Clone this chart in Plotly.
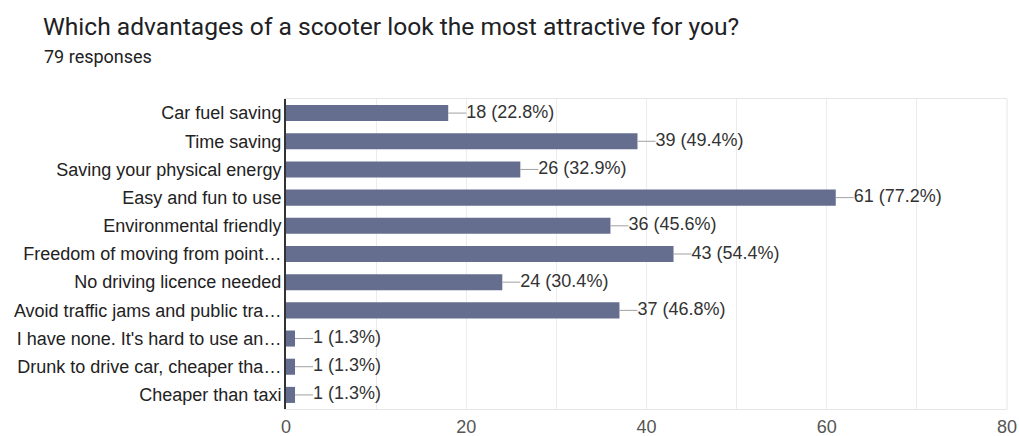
import plotly.graph_objects as go

categories = [
    "Car fuel saving",
    "Time saving",
    "Saving your physical energy",
    "Easy and fun to use",
    "Environmental friendly",
    "Freedom of moving from point…",
    "No driving licence needed",
    "Avoid traffic jams and public tra…",
    "I have none. It's hard to use an…",
    "Drunk to drive car, cheaper tha…",
    "Cheaper than taxi",
]
counts = [18, 39, 26, 61, 36, 43, 24, 37, 1, 1, 1]
percents = [22.8, 49.4, 32.9, 77.2, 45.6, 54.4, 30.4, 46.8, 1.3, 1.3, 1.3]
x_ticks = [0, 20, 40, 60, 80]

BAR = "#666e90"
LEAD = 2.0
FONT = "Arial, Liberation Sans, sans-serif"

labels = [f"{c} ({p}%)" for c, p in zip(counts, percents)]

fig = go.Figure()
fig.add_trace(go.Bar(
    x=counts, y=categories, orientation="h",
    marker=dict(color=BAR, line=dict(width=0)),
    width=0.57, hoverinfo="skip",
))

cx, cy = [], []
for c, cat in zip(counts, categories):
    cx += [c, c + LEAD, None]
    cy += [cat, cat, None]
fig.add_trace(go.Scatter(
    x=cx, y=cy, mode="lines",
    line=dict(color="#a0a0a0", width=1), hoverinfo="skip",
))
fig.add_trace(go.Scatter(
    x=[c + LEAD for c in counts], y=categories, mode="text",
    text=labels, textposition="middle right",
    textfont=dict(family=FONT, size=18, color="#333333"),
    hoverinfo="skip",
))

fig.update_layout(
    width=1019, height=436,
    margin=dict(l=286, r=12, t=99, b=27, autoexpand=False),
    paper_bgcolor="white", plot_bgcolor="white",
    showlegend=False,
    title=dict(
        text="Which advantages of a scooter look the most attractive for you?",
        x=43 / 1019, xanchor="left", xref="container",
        y=1 - 26 / 436, yanchor="middle", yref="container",
        pad=dict(l=0, r=0, t=0, b=0),
        font=dict(family="Roboto", size=24.6, color="#202124"),
    ),
    annotations=[dict(
        text="79 responses", xref="paper", yref="paper",
        x=(43 - 286) / 721, y=(409 - 57) / 310,
        xanchor="left", yanchor="middle", showarrow=False,
        borderpad=0,
        font=dict(family="Roboto", size=18, color="#202124"),
    )],
    xaxis=dict(
        range=[0, 80], tickvals=x_ticks, ticktext=[str(t) for t in x_ticks],
        showgrid=True, gridcolor="#ececec", gridwidth=1,
        minor=dict(dtick=10, showgrid=True, gridcolor="#ececec", gridwidth=1),
        showline=True, linecolor="#e6e6e6", linewidth=1, mirror=True,
        zeroline=False, ticks="", automargin=False, ticklabelstandoff=1,
        tickfont=dict(family=FONT, size=18, color="#555555"),
        fixedrange=True,
    ),
    yaxis=dict(
        type="category", categoryorder="array", categoryarray=categories,
        range=[len(categories) - 0.5, -0.5],
        showgrid=False, showline=True, linecolor="#333333", linewidth=2,
        zeroline=False, ticks="", ticklabelstandoff=-1, automargin=False,
        tickfont=dict(family=FONT, size=18, color="#222222"),
        fixedrange=True,
    ),
)

fig.add_shape(type="line", xref="paper", yref="paper", x0=1, x1=1, y0=0, y1=1,
              line=dict(color="#e6e6e6", width=1))

fig.write_html(
    "out.html",
    config={"displayModeBar": False},
    post_script="document.body.style.margin='0';document.body.style.overflow='hidden';",
)
